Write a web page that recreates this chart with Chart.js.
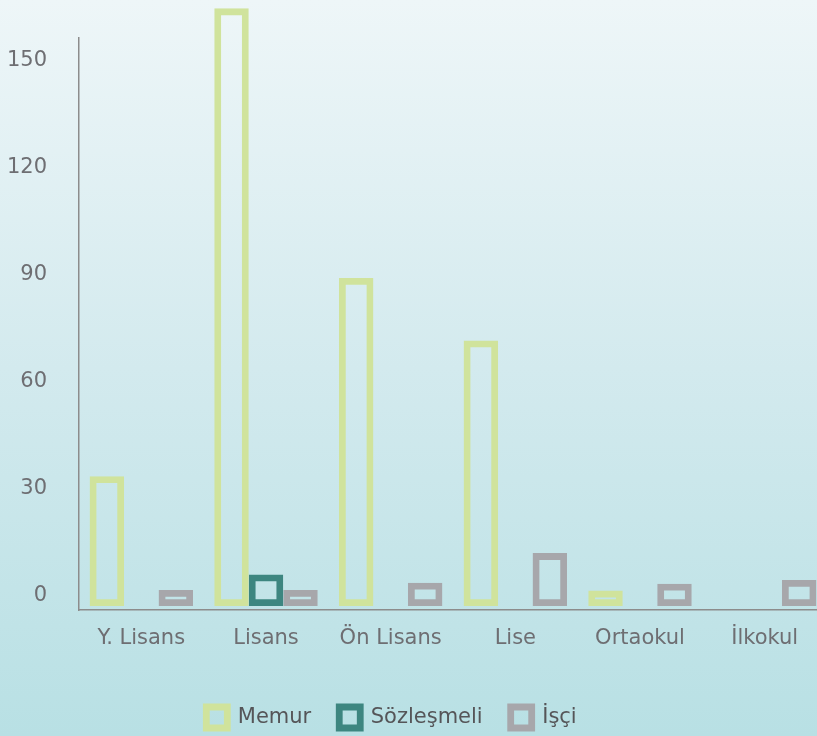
<!DOCTYPE html>
<html>
<head>
<meta charset="utf-8">
<script src="https://cdn.jsdelivr.net/npm/chart.js@4"></script>
<style>
  html, body {
    margin: 0;
    padding: 0;
    width: 817px;
    height: 736px;
    overflow: hidden;
    background: linear-gradient(to bottom, #eef6f8 0%, #d3eaee 50%, #b8e0e4 100%);
  }
  #wrap {
    position: absolute;
    left: -44px;
    top: 0;
    width: 871px;
    height: 736px;
  }
</style>
</head>
<body>
<div id="wrap"><canvas id="chart"></canvas></div>
<script>
  // Data
  const categories = ["Y. Lisans", "Lisans", "Ön Lisans", "Lise", "Ortaokul", "İlkokul"];
  const memur = [33.5, 164.5, 89, 71.5, 1.5, null];
  const sozlesmeli = [null, 6, null, null, null, null];
  const isci = [1.7, 1.7, 3.7, 12, 3.4, 4.5];
  const yTicks = [0, 30, 60, 90, 120, 150];

  const textColor = "#6e6e72";
  const axisColor = "#8c8c8c";
  const font = { family: "DejaVu Sans", size: 21 };

  function barSet(label, data, color) {
    return {
      label: label,
      data: data,
      borderColor: color,
      backgroundColor: "rgba(0,0,0,0)",
      borderWidth: 6.8,
      borderSkipped: false,
      base: -2.8,
      clip: false,
    };
  }

  const ctx = document.getElementById("chart");
  new Chart(ctx, {
    type: "bar",
    data: {
      labels: categories,
      datasets: [
        barSet("Memur", memur, "#d0e39c"),
        barSet("Sözleşmeli", sozlesmeli, "#3d8680"),
        barSet("İşçi", isci, "#a7a7ab"),
      ],
    },
    options: {
      responsive: true,
      maintainAspectRatio: false,
      animation: false,
      categoryPercentage: 0.83,
      barPercentage: 1,
      layout: {
        padding: { top: 38, left: 0, right: 0, bottom: -2 },
      },
      plugins: {
        tooltip: { enabled: false },
        legend: {
          position: "bottom",
          labels: {
            boxWidth: 21,
            boxHeight: 21,
            padding: 28,
            color: "#555558",
            font: font,
          },
        },
      },
      scales: {
        x: {
          grid: { display: false },
          border: { display: true, color: axisColor, width: 1.5 },
          ticks: { color: textColor, font: font, padding: 8, maxRotation: 0 },
          afterFit: (scale) => {
            scale.height = 69;
          },
        },
        y: {
          min: -3.93,
          max: 156.2,
          // invisible tick marks give the gap between labels and the axis
          grid: {
            display: true,
            drawOnChartArea: false,
            drawTicks: true,
            tickLength: 29,
            tickColor: "rgba(0,0,0,0)",
          },
          border: { display: true, color: axisColor, width: 1.5 },
          ticks: { color: textColor, font: font, padding: 3 },
          afterBuildTicks: (scale) => {
            scale.ticks = yTicks.map((v) => ({ value: v }));
          },
          afterFit: (scale) => {
            scale.width = 123;
          },
        },
      },
    },
  });
</script>
</body>
</html>
